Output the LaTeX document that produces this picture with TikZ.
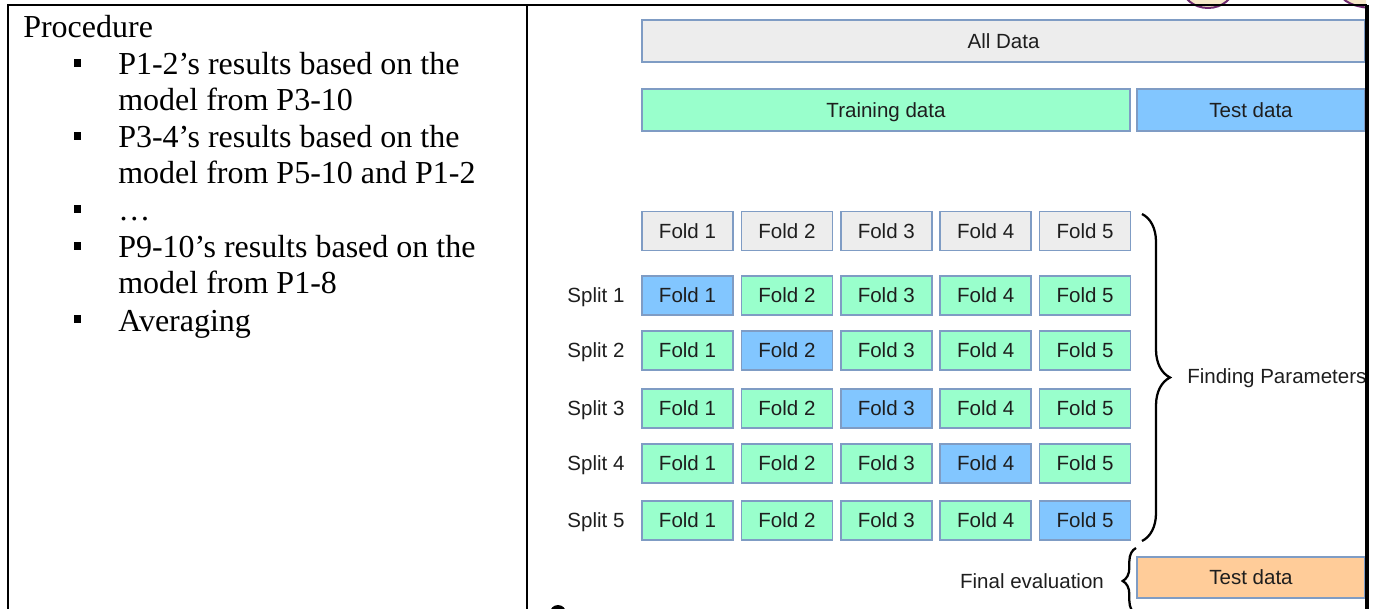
\documentclass[tikz,border=0pt]{standalone}
\usepackage{fontspec}
\setmainfont{Liberation Serif}
\newfontfamily\sansf{Liberation Sans}
\usetikzlibrary{decorations.pathreplacing}
\definecolor{edgeblue}{HTML}{7F9CC4}
\definecolor{grayfill}{HTML}{EDEDED}
\definecolor{greenfill}{HTML}{99FFCC}
\definecolor{bluefill}{HTML}{82C6FF}
\definecolor{orangefill}{HTML}{FFCC99}
\definecolor{txt}{HTML}{1E1E1E}
\definecolor{cream}{HTML}{F6E7C8}
\definecolor{plum}{HTML}{6E2A6E}
\begin{document}
\begin{tikzpicture}[x=0.75pt,y=-0.75pt,
  box/.style={draw=edgeblue, line width=1.1pt, inner sep=0pt, text=txt,
    text height=11pt, text depth=0pt,
    font=\sansf\fontsize{15.4}{18}\selectfont},
  foldbox/.style={box, minimum width=68.25pt, minimum height=29.25pt},
  gray/.style={foldbox, fill=grayfill},
  train/.style={foldbox, fill=greenfill},
  test/.style={foldbox, fill=bluefill},
  lbl/.style={inner sep=0pt, text=txt, text height=11pt, text depth=0pt,
    font=\sansf\fontsize{15.4}{18}\selectfont},
  line/.style={anchor=base west, inner sep=0pt, font=\fontsize{24}{29}\selectfont},
  bul/.style={fill=black, minimum size=5.4pt, inner sep=0pt},
  frame/.style={line width=1.5pt},
  bracestyle/.style={decorate, line width=1.7pt, draw=black}
]
\useasboundingbox (0,0) rectangle (1380,609);

% decorative partial shapes
\begin{scope}
  \clip (0,0) rectangle (1366,609);
  \draw[plum, fill=cream, line width=1.5pt] (1208,-14) ellipse[x radius=26, y radius=22];
  \draw[plum, fill=cream, line width=1.5pt] (1374,-8) ellipse[x radius=34, y radius=16];
  \fill[black] (558,613) circle[radius=8];
\end{scope}

% left column text
\node[line] (t0) at (23,38) {Procedure};
\node[line] (t1) at (118,75) {P1-2’s results based on the};
\node[line] (t2) at (118,111) {model from P3-10};
\node[line] (t3) at (118,148) {P3-4’s results based on the};
\node[line] (t4) at (118,184) {model from P5-10 and P1-2};
\node[line] (t5) at (118,221) {…};
\node[line] (t6) at (118,258) {P9-10’s results based on the};
\node[line] (t7) at (118,294) {model from P1-8};
\node[line] (t8) at (118,331) {Averaging};
\node[bul] (b1) at (77.5,63) {};
\node[bul] (b3) at (77.5,136) {};
\node[bul] (b5) at (77.5,209) {};
\node[bul] (b6) at (77.5,246) {};
\node[bul] (b8) at (77.5,319) {};

% top boxes
\node[box, fill=grayfill, minimum width=542.25pt, minimum height=31.5pt] (all) at (1003.5,41) {All Data};
\node[box, fill=greenfill, minimum width=366pt, minimum height=31.5pt] (training) at (886,110) {Training data};
\node[box, fill=bluefill, minimum width=171pt, minimum height=31.5pt] (testtop) at (1251,110) {Test data};

% header folds
\foreach \i/\x in {1/687.5,2/786.9,3/886.3,4/985.7,5/1085.1}{
  \node[gray] (h\i) at (\x,231) {Fold \i};
}
% split rows
\foreach \r/\y in {1/295.5,2/350.5,3/408.5,4/463.5,5/520.5}{
  \node[lbl] (s\r) at (596,\y) {Split \r};
  \foreach \i/\x in {1/687.5,2/786.9,3/886.3,4/985.7,5/1085.1}{
    \ifnum\i=\r
      \node[test] (f\r\i) at (\x,\y) {Fold \i};
    \else
      \node[train] (f\r\i) at (\x,\y) {Fold \i};
    \fi
  }
}

% braces and labels
\draw[bracestyle, decoration={brace, amplitude=21pt}] (1142,214) -- (1142,541);
\begin{scope}
  \clip (0,0) rectangle (1366,609);
  \node[lbl, anchor=west] (fp) at (1187,376) {Finding Parameters};
\end{scope}
\node[box, fill=orangefill, minimum width=171pt, minimum height=30.75pt] (testbot) at (1251,577.5) {Test data};
\draw[bracestyle, decoration={brace, amplitude=10pt}] (1136,614) -- (1136,548);
\node[lbl] (fe) at (1032,581) {Final evaluation};

% table frame
\draw[frame] (8,609) -- (8,5) -- (540,5);
\draw[line width=1pt] (540,5) -- (1367,5);
\draw[frame] (527,5) -- (527,609);
\draw[line width=2.5pt] (1367,5) -- (1367,609);
\end{tikzpicture}
\end{document}
